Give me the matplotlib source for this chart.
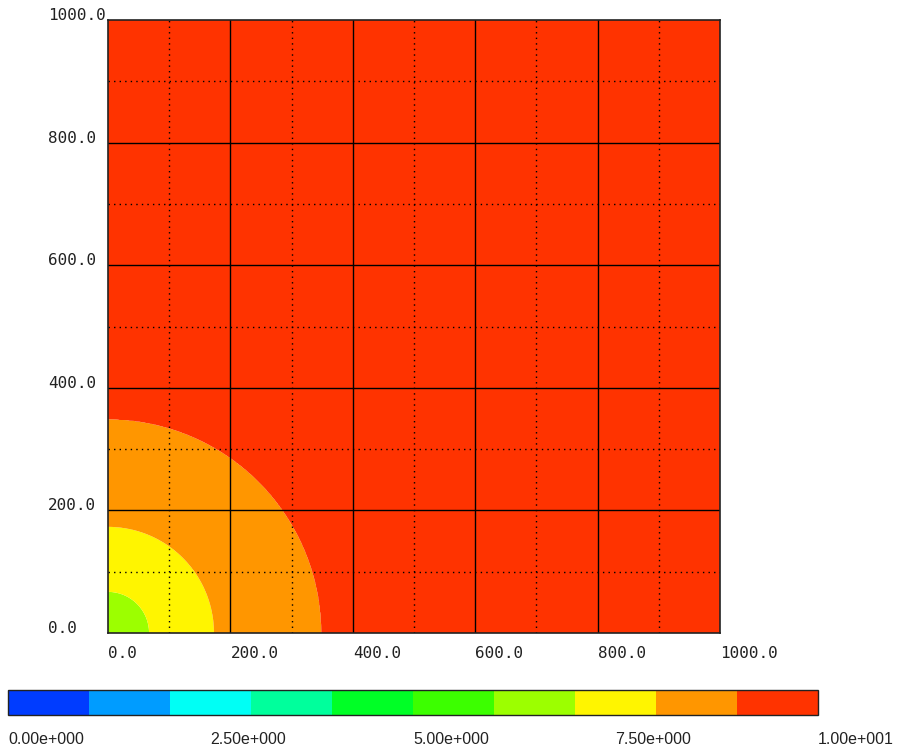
import numpy as np
import matplotlib
matplotlib.use("Agg")
import matplotlib.pyplot as plt
from matplotlib.colors import ListedColormap, BoundaryNorm

# ---- data ----
# radial profile: radius (data units) -> field value
profile_radius = [0.0, 67.0, 173.0, 348.0, 1420.0]
profile_value = [6.2, 7.0, 8.0, 9.0, 9.9]

levels = [0, 1, 2, 3, 4, 5, 6, 7, 8, 9, 10]
band_colors = ["#003cff", "#009cff", "#00fff5", "#00ff9c", "#00ff26",
               "#3cff00", "#9cff00", "#fff500", "#ff9600", "#ff3300"]

major_ticks = [0, 200, 400, 600, 800, 1000]
minor_ticks = [100, 300, 500, 700, 900]
tick_labels = ["0.0", "200.0", "400.0", "600.0", "800.0", "1000.0"]

cbar_ticks = [0.0, 2.5, 5.0, 7.5, 10.0]
cbar_labels = ["0.00e+000", "2.50e+000", "5.00e+000", "7.50e+000", "1.00e+001"]

# ---- figure ----
fig = plt.figure(figsize=(9.0, 7.51), dpi=100)
ax = fig.add_axes([108/900, 1-633/751, 612/900, 613/751])

x = np.linspace(0, 1000, 801)
y = np.linspace(0, 1000, 801)
X, Y = np.meshgrid(x, y)
R = np.hypot(X, Y)
Z = np.interp(R, profile_radius, profile_value)

cmap = ListedColormap(band_colors)
norm = BoundaryNorm(levels, cmap.N)
cf = ax.contourf(X, Y, Z, levels=levels, cmap=cmap, norm=norm, antialiased=True)

ax.set_xlim(0, 1000)
ax.set_ylim(0, 1000)

for v in major_ticks[1:-1]:
    ax.axvline(v, color="black", lw=1.0, zorder=3)
    ax.axhline(v, color="black", lw=1.0, zorder=3)
for v in minor_ticks:
    ax.axvline(v, color="black", lw=1.0, ls=(0, (1, 3)), zorder=3)
    ax.axhline(v, color="black", lw=1.0, ls=(0, (1, 3)), zorder=3)

for s in ax.spines.values():
    s.set_color("#222222")
    s.set_linewidth(1.2)
    s.set_zorder(4)

mono = "DejaVu Sans Mono"
ax.set_xticks(major_ticks)
ax.set_xticklabels(tick_labels, family=mono, fontsize=11.5, color="#222222")
ax.set_yticks(major_ticks)
ax.set_yticklabels(tick_labels, family=mono, fontsize=11.5, color="#222222")
ax.tick_params(axis="x", length=0, pad=9)
ax.tick_params(axis="y", length=0, pad=43)
for lab in ax.get_xticklabels():
    lab.set_ha("left")
for lab in ax.get_yticklabels():
    lab.set_ha("left")
    lab.set_va("baseline")

# ---- colorbar ----
cax = fig.add_axes([8/900, 1-715/751, 810/900, 25/751])
cb = fig.colorbar(cf, cax=cax, orientation="horizontal", ticks=cbar_ticks)
cb.ax.minorticks_off()
cb.ax.set_xticklabels(cbar_labels, family="Liberation Sans", fontsize=11.5, color="#222222")
cb.ax.tick_params(which="both", length=0, pad=12)
for lab in cb.ax.get_xticklabels():
    lab.set_ha("left")
cb.outline.set_edgecolor("#222222")
cb.outline.set_linewidth(1.0)

fig.savefig("out.png", dpi=100)
